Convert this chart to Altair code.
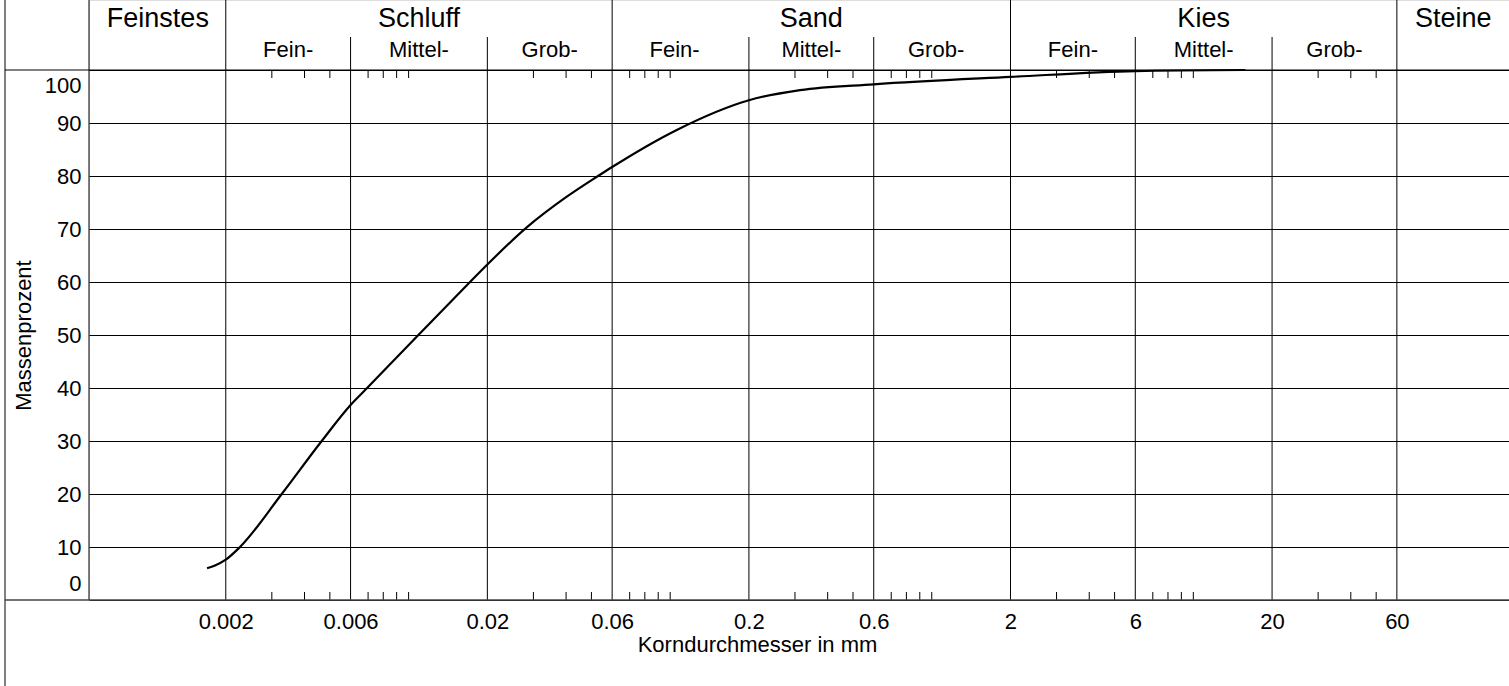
import altair as alt
import pandas as pd

# ---- data (grain size distribution curve) ----
diameter_mm = [0.001696, 0.001819, 0.002, 0.002267, 0.003273, 0.004654, 0.006, 0.00694,
               0.0109, 0.01717, 0.02, 0.02829, 0.04, 0.053, 0.06, 0.106, 0.2, 0.3137,
               0.6, 2, 6, 15.8]
mass_percent = [6.0, 6.5, 7.6, 10, 20, 30, 36.8, 40,
                50, 60, 63.3, 70.3, 76.0, 80, 81.7, 88.7, 94.3, 96.2,
                97.3, 98.7, 99.8, 100]

x_tick_values = [0.002, 0.006, 0.02, 0.06, 0.2, 0.6, 2, 6, 20, 60]
y_tick_values = [0, 10, 20, 30, 40, 50, 60, 70, 80, 90, 100]
main_bounds = [0.002, 0.06, 2, 60]
sub_bounds = [0.006, 0.02, 0.2, 0.6, 6, 20]
minor_ticks = [0.003, 0.004, 0.005, 0.007, 0.008, 0.009, 0.01,
               0.03, 0.04, 0.05, 0.07, 0.08, 0.09, 0.1,
               0.3, 0.4, 0.5, 0.7, 0.8, 0.9, 1,
               3, 4, 5, 7, 8, 9, 10,
               30, 40, 50]
group_names = ["Feinstes", "Schluff", "Sand", "Kies", "Steine"]
group_pos = [0.0011, 0.01095, 0.3464, 10.95, 98.5]
sub_names = ["Fein-", "Mittel-", "Grob-", "Fein-", "Mittel-", "Grob-", "Fein-", "Mittel-", "Grob-"]
sub_pos = [0.003464, 0.01095, 0.03464, 0.1039, 0.3464, 1.039, 3.464, 10.95, 34.64]

# ---- layout ----
W, H = 1420, 600
FONT = "Liberation Sans"
xs = alt.Scale(type="log", domain=[0.0006, 161], nice=False)
ys = alt.Scale(domain=[0, 100], range=[600, 70], nice=False, zero=False)

x_axis = alt.Axis(values=x_tick_values, format="~g", grid=False, domain=False, ticks=False,
                  labelPadding=11, labelFontSize=22, labelFont=FONT, labelColor="black",
                  labelFlush=False, labelOverlap=False,
                  title="Korndurchmesser in mm", titleFont=FONT, titleFontSize=22,
                  titleFontWeight="normal", titleColor="black",
                  titleX=668, titleY=51, titleAlign="center", titleBaseline="alphabetic")
y_axis = alt.Axis(values=y_tick_values, grid=True, gridColor="black", gridWidth=1, gridOpacity=1,
                  domain=False, ticks=False, labelPadding=8, labelFontSize=22, labelFont=FONT,
                  labelColor="black", labelFlush=True, labelFlushOffset=-5,
                  title="Massenprozent", titleFont=FONT, titleFontSize=22,
                  titleFontWeight="normal", titleColor="black",
                  titleX=-59, titleY=335, titleAngle=270, titleAlign="center",
                  titleBaseline="alphabetic")


def xenc(field):
    return alt.X(field, type="quantitative", scale=xs, axis=x_axis)


curve_df = pd.DataFrame({"d": diameter_mm, "p": mass_percent})
curve = alt.Chart(curve_df).mark_line(color="black", strokeWidth=2.2, interpolate="monotone").encode(
    x=xenc("d"),
    y=alt.Y("p", type="quantitative", scale=ys, axis=y_axis),
)

main_lines = alt.Chart(pd.DataFrame({"d": main_bounds})).mark_rule(color="black", strokeWidth=1).encode(
    x=xenc("d"), y=alt.value(0), y2=alt.value(600))
sub_lines = alt.Chart(pd.DataFrame({"d": sub_bounds})).mark_rule(color="black", strokeWidth=1).encode(
    x=xenc("d"), y=alt.value(37), y2=alt.value(600))

tick_df = pd.DataFrame({"d": minor_ticks})
top_ticks = alt.Chart(tick_df).mark_rule(color="black", strokeWidth=1).encode(
    x=xenc("d"), y=alt.value(70), y2=alt.value(78))
bottom_ticks = alt.Chart(tick_df).mark_rule(color="black", strokeWidth=1).encode(
    x=xenc("d"), y=alt.value(592), y2=alt.value(600))

group_text = alt.Chart(pd.DataFrame({"d": group_pos, "t": group_names})).mark_text(
    font=FONT, fontSize=27, color="black", align="center", baseline="alphabetic").encode(
    x=xenc("d"), y=alt.value(27), text="t:N")
sub_text = alt.Chart(pd.DataFrame({"d": sub_pos, "t": sub_names})).mark_text(
    font=FONT, fontSize=22, color="black", align="center", baseline="alphabetic").encode(
    x=xenc("d"), y=alt.value(57), text="t:N")

one = pd.DataFrame({"k": [0]})
frame_left = alt.Chart(one).mark_rule(color="black", strokeWidth=1).encode(
    x=alt.value(-84), y=alt.value(0), y2=alt.value(686))
plot_left = alt.Chart(one).mark_rule(color="black", strokeWidth=1).encode(
    x=alt.value(0), y=alt.value(0), y2=alt.value(600))
top_line = alt.Chart(one).mark_rule(color="black", strokeWidth=1).encode(
    x=alt.value(-84), x2=alt.value(W), y=alt.value(70))
bottom_line = alt.Chart(one).mark_rule(color="#444", strokeWidth=1.5).encode(
    x=alt.value(-84), x2=alt.value(W), y=alt.value(600))

chart = alt.layer(
    curve, main_lines, sub_lines, top_ticks, bottom_ticks, group_text, sub_text,
    frame_left, plot_left, top_line, bottom_line,
).properties(
    width=W, height=H,
    padding={"left": 89, "top": 0, "right": 0, "bottom": 86},
    autosize=alt.AutoSizeParams(type="none"),
).configure_view(strokeWidth=0).configure(background="white")

chart.save("out.html", embed_options={"renderer": "svg", "actions": False})
